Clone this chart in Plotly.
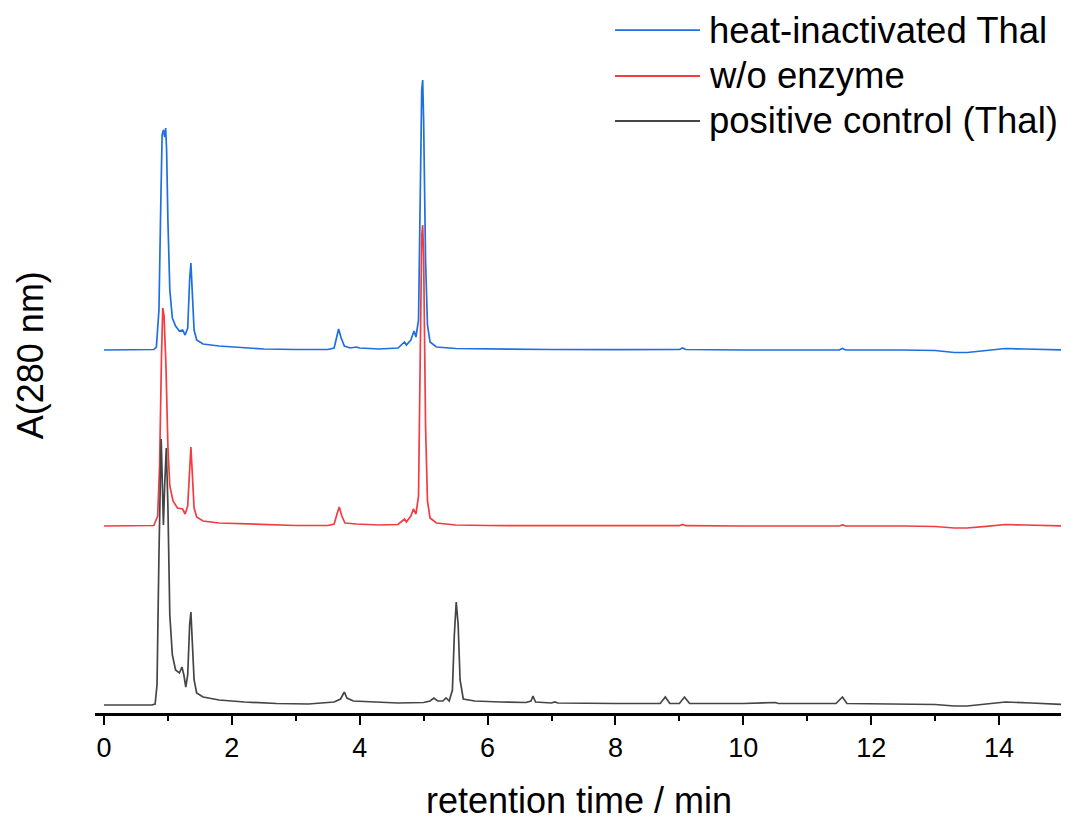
import plotly.graph_objects as go

# ---------------- data ----------------
# retention time (min) and absorbance (arbitrary units, baseline = 0)
t_heat = [0.0, 0.5, 0.78, 0.82, 0.86, 0.89, 0.91, 0.93, 0.95, 0.965, 0.98, 1.0, 1.03, 1.07,
          1.12, 1.18, 1.23, 1.27, 1.31, 1.34, 1.36, 1.38, 1.41, 1.45, 1.55, 1.8, 2.2, 2.5,
          3.0, 3.5, 3.6, 3.64, 3.67, 3.71, 3.76, 3.85, 3.95, 4.0, 4.3, 4.6, 4.7, 4.73, 4.8,
          4.85, 4.88, 4.92, 4.95, 4.97, 4.985, 5.0, 5.03, 5.06, 5.1, 5.2, 5.5, 6.0, 7.0,
          8.0, 9.0, 9.05, 9.1, 10.0, 11.0, 11.5, 11.55, 11.6, 12.5, 13.0, 13.3, 13.5, 13.8,
          14.1, 14.4, 14.8, 15.0]
a_heat = [0, 0, 0.5, 3, 40, 150, 215, 220, 213, 222, 200, 130, 60, 32,
          24, 19, 20, 15, 22, 70, 87, 60, 20, 10, 6, 4, 2, 1,
          0.5, 0.5, 2, 14, 21, 12, 4, 2, 3, 2, 1, 2, 8, 5, 10,
          19, 13, 30, 150, 260, 270, 230, 90, 25, 8, 3, 1.5, 1, 0.5,
          0.3, 0.5, 2, 0.5, 0, 0, 0, 1.5, 0, 0, -0.5, -2.5, -2.5, -0.5,
          1.5, 1, 0, 0]

t_noenz = [0.0, 0.5, 0.78, 0.84, 0.87, 0.9, 0.92, 0.94, 0.97, 1.0, 1.03, 1.08, 1.15, 1.23,
           1.27, 1.31, 1.34, 1.36, 1.38, 1.41, 1.45, 1.55, 1.8, 2.2, 2.5, 3.0, 3.5, 3.6,
           3.65, 3.68, 3.72, 3.77, 3.95, 4.3, 4.6, 4.7, 4.73, 4.8, 4.84, 4.88, 4.92, 4.95,
           4.97, 4.985, 5.0, 5.03, 5.06, 5.1, 5.2, 5.5, 6.0, 7.0, 8.0, 9.0, 9.05, 9.1,
           10.0, 11.0, 11.5, 11.55, 11.6, 12.5, 13.0, 13.3, 13.5, 13.8, 14.1, 14.4, 14.8, 15.0]
a_noenz = [0, 0, 0.5, 10, 60, 170, 218, 210, 160, 80, 40, 25, 18, 17,
           12, 20, 60, 79, 55, 18, 9, 5, 3, 2, 1, 0.5, 0.5, 2,
           13, 19, 10, 3, 2, 1, 1.5, 7, 4, 10, 17, 12, 30, 180,
           290, 301, 270, 100, 25, 8, 3, 1, 0.5, 0.3, 0.3, 0.3, 1.5, 0.3,
           0, 0, 0, 1, 0, 0, -0.5, -2, -2, -0.3, 1.5, 1, 0, 0]

t_pos = [0.0, 0.75, 0.8, 0.83, 0.86, 0.88, 0.895, 0.91, 0.93, 0.95, 0.975, 1.0, 1.03, 1.07,
         1.12, 1.18, 1.22, 1.25, 1.28, 1.31, 1.34, 1.36, 1.38, 1.41, 1.45, 1.55, 1.8, 2.2,
         2.7, 3.2, 3.6, 3.7, 3.76, 3.8, 3.9, 4.2, 4.6, 5.0, 5.1, 5.16, 5.22, 5.3, 5.35,
         5.4, 5.45, 5.48, 5.51, 5.54, 5.57, 5.62, 5.8, 6.2, 6.6, 6.68, 6.71, 6.75, 7.0,
         7.05, 7.1, 8.0, 8.7, 8.78, 8.85, 9.0, 9.08, 9.16, 10.0, 10.5, 10.55, 11.45, 11.55,
         11.62, 12.5, 13.0, 13.3, 13.5, 13.8, 14.1, 14.5, 15.0]
a_pos = [0, 0, 1, 20, 150, 250, 266, 230, 180, 220, 257, 200, 90, 50,
         35, 32, 38, 30, 18, 30, 80, 93, 70, 25, 12, 8, 5, 3,
         1.5, 1, 3, 6, 13, 7, 4, 3, 2, 2.5, 4, 7, 4, 4, 7,
         4, 15, 70, 103, 80, 25, 6, 4, 3, 2.5, 4, 9, 3, 2,
         3, 2, 1.5, 1.5, 8, 1.5, 1.5, 8, 1.5, 1.5, 2.5, 1.5, 1.5, 8,
         1.5, 1, 0.5, -1, -1, 1, 3, 2, 0.5]

series_names = ["heat-inactivated Thal", "w/o enzyme", "positive control (Thal)"]
series_colors = ["#1f6fe0", "#f23c42", "#454545"]
stack_offsets = [355, 179, 0]  # vertical offset used to stack the traces

x_tick_vals = [0, 2, 4, 6, 8, 10, 12, 14]

# ---------------- figure ----------------
fig = go.Figure()
for name, t, a, col, off in zip(series_names, [t_heat, t_noenz, t_pos],
                                [a_heat, a_noenz, a_pos], series_colors, stack_offsets):
    fig.add_trace(go.Scatter(
        x=t, y=[v + off for v in a], mode="lines", name=name, showlegend=False,
        line=dict(color=col, width=1.7), hoverinfo="skip"))

font_family = "Liberation Sans, Arial, sans-serif"

# legend drawn as line samples + labels (long sample lines as in the reference)
legend_rows_y = [1.0459, 0.9755, 0.9066]
shapes = []
annotations = []
for name, col, yy in zip(series_names, series_colors, legend_rows_y):
    shapes.append(dict(type="line", xref="paper", yref="paper",
                       x0=0.5372, x1=0.6250, y0=yy, y1=yy,
                       line=dict(color=col, width=1.8)))
    annotations.append(dict(xref="paper", yref="paper", x=0.6325, y=yy,
                            xanchor="left", yanchor="middle", showarrow=False,
                            text=name, font=dict(size=36.5, family=font_family, color="black")))

# y-axis title (placed as in the reference)
annotations.append(dict(xref="paper", yref="paper", x=-0.0671, y=0.548,
                        xanchor="center", yanchor="middle", showarrow=False,
                        text="A(280 nm)", textangle=-90,
                        font=dict(size=36, family=font_family, color="black")))

fig.update_layout(
    width=1061, height=813,
    margin=dict(l=87, r=6, t=52, b=108, autoexpand=False),
    paper_bgcolor="white", plot_bgcolor="white",
    font=dict(family=font_family, color="black"),
    showlegend=False,
    shapes=shapes,
    annotations=annotations,
    xaxis=dict(
        range=[-0.14, 15.0], showgrid=False, zeroline=False,
        showline=True, linecolor="black", linewidth=2.5,
        ticks="outside", ticklen=9, tickwidth=2, tickcolor="black",
        tickvals=x_tick_vals, ticktext=[str(v) for v in x_tick_vals],
        tickfont=dict(size=27, color="black"),
        minor=dict(dtick=1, tick0=0, ticks="outside", ticklen=5, tickwidth=2,
                   tickcolor="black", showgrid=False),
        title=dict(text="retention time / min", font=dict(size=36, color="black"),
                   standoff=26),
    ),
    yaxis=dict(
        range=[-8, 645], showgrid=False, zeroline=False, showline=False,
        showticklabels=False, ticks="",
    ),
)

fig.write_html("out.html")
